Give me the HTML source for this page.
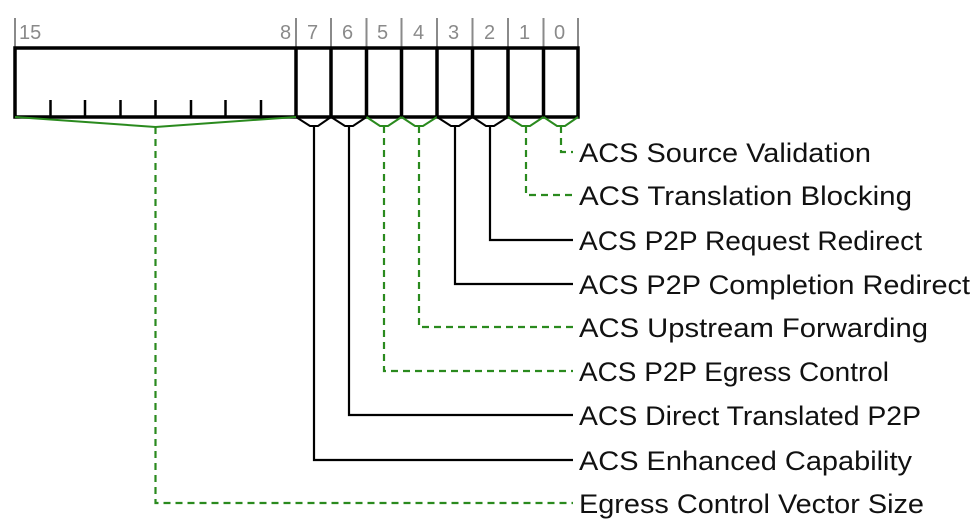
<!DOCTYPE html>
<html><head><meta charset="utf-8"><style>
html,body{margin:0;padding:0;background:#fff;}
svg{display:block}
text{font-family:"Liberation Sans",sans-serif;}
</style></head><body>
<svg width="976" height="526" viewBox="0 0 976 526" xmlns="http://www.w3.org/2000/svg">
<g stroke="#8a8a8a" stroke-width="2">
<line x1="15" y1="18" x2="15" y2="47"/>
<line x1="296" y1="18" x2="296" y2="47"/>
<line x1="331" y1="18" x2="331" y2="47"/>
<line x1="366.5" y1="18" x2="366.5" y2="47"/>
<line x1="401.5" y1="18" x2="401.5" y2="47"/>
<line x1="437" y1="18" x2="437" y2="47"/>
<line x1="472.5" y1="18" x2="472.5" y2="47"/>
<line x1="508" y1="18" x2="508" y2="47"/>
<line x1="543.5" y1="18" x2="543.5" y2="47"/>
<line x1="578" y1="18" x2="578" y2="47"/>
</g>
<g fill="#8a8a8a" font-size="20">
<text x="19" y="39">15</text>
<text x="280" y="39">8</text>
<text x="307" y="39">7</text>
<text x="342" y="39">6</text>
<text x="377" y="39">5</text>
<text x="413" y="39">4</text>
<text x="448" y="39">3</text>
<text x="484" y="39">2</text>
<text x="519" y="39">1</text>
<text x="554" y="39">0</text>
</g>
<g stroke="#000" stroke-width="3.5" fill="none">
<rect x="15" y="48" width="563" height="69"/>
<line x1="296" y1="48" x2="296" y2="117"/>
<line x1="331" y1="48" x2="331" y2="117"/>
<line x1="366.5" y1="48" x2="366.5" y2="117"/>
<line x1="401.5" y1="48" x2="401.5" y2="117"/>
<line x1="437" y1="48" x2="437" y2="117"/>
<line x1="472.5" y1="48" x2="472.5" y2="117"/>
<line x1="508" y1="48" x2="508" y2="117"/>
<line x1="543.5" y1="48" x2="543.5" y2="117"/>
</g>
<g stroke="#000" stroke-width="2.5">
<line x1="50.5" y1="100" x2="50.5" y2="117"/>
<line x1="85" y1="100" x2="85" y2="117"/>
<line x1="120.5" y1="100" x2="120.5" y2="117"/>
<line x1="155.5" y1="100" x2="155.5" y2="117"/>
<line x1="191" y1="100" x2="191" y2="117"/>
<line x1="225.5" y1="100" x2="225.5" y2="117"/>
<line x1="261" y1="100" x2="261" y2="117"/>
</g>
<g fill="none" stroke-width="2">
<polyline stroke="#000" points="296,117 310,126 318,126 331,117"/>
<polyline stroke="#000" points="331,117 345,126 353,126 366.5,117"/>
<polyline stroke="#2a8a1e" points="366.5,117 380,126 388,126 401.5,117"/>
<polyline stroke="#2a8a1e" points="401.5,117 415,126 423,126 437,117"/>
<polyline stroke="#000" points="437,117 451,126 459,126 472.5,117"/>
<polyline stroke="#000" points="472.5,117 486,126 494,126 508,117"/>
<polyline stroke="#2a8a1e" points="508,117 522,126 530,126 543.5,117"/>
<polyline stroke="#2a8a1e" points="543.5,117 557,126 565,126 578,117"/>
<polyline stroke="#2a8a1e" points="15,117 155.5,127 296,117"/>
</g>
<g fill="none" stroke-width="2.2">
<polyline stroke="#2a8a1e" stroke-dasharray="7,5" points="561,126 561,152 573,152"/>
<polyline stroke="#2a8a1e" stroke-dasharray="7,5" points="526,126 526,195 573,195"/>
<polyline stroke="#000" points="490,126 490,240 573,240"/>
<polyline stroke="#000" points="455,126 455,284 573,284"/>
<polyline stroke="#2a8a1e" stroke-dasharray="7,5" points="419,126 419,327 573,327"/>
<polyline stroke="#2a8a1e" stroke-dasharray="7,5" points="384,126 384,371 573,371"/>
<polyline stroke="#000" points="349,126 349,415 573,415"/>
<polyline stroke="#000" points="314,126 314,460 573,460"/>
<polyline stroke="#2a8a1e" stroke-dasharray="7,5" points="155.5,127 155.5,503 573,503"/>
</g>
<g fill="#111" font-size="27">
<text x="579" y="162" textLength="292" lengthAdjust="spacingAndGlyphs">ACS Source Validation</text>
<text x="579" y="205" textLength="333" lengthAdjust="spacingAndGlyphs">ACS Translation Blocking</text>
<text x="579" y="250" textLength="343" lengthAdjust="spacingAndGlyphs">ACS P2P Request Redirect</text>
<text x="579" y="294" textLength="391" lengthAdjust="spacingAndGlyphs">ACS P2P Completion Redirect</text>
<text x="579" y="337" textLength="349" lengthAdjust="spacingAndGlyphs">ACS Upstream Forwarding</text>
<text x="579" y="381" textLength="310" lengthAdjust="spacingAndGlyphs">ACS P2P Egress Control</text>
<text x="579" y="425" textLength="342" lengthAdjust="spacingAndGlyphs">ACS Direct Translated P2P</text>
<text x="579" y="470" textLength="333" lengthAdjust="spacingAndGlyphs">ACS Enhanced Capability</text>
<text x="579" y="513" textLength="345" lengthAdjust="spacingAndGlyphs">Egress Control Vector Size</text>
</g>
</svg>
</body></html>
